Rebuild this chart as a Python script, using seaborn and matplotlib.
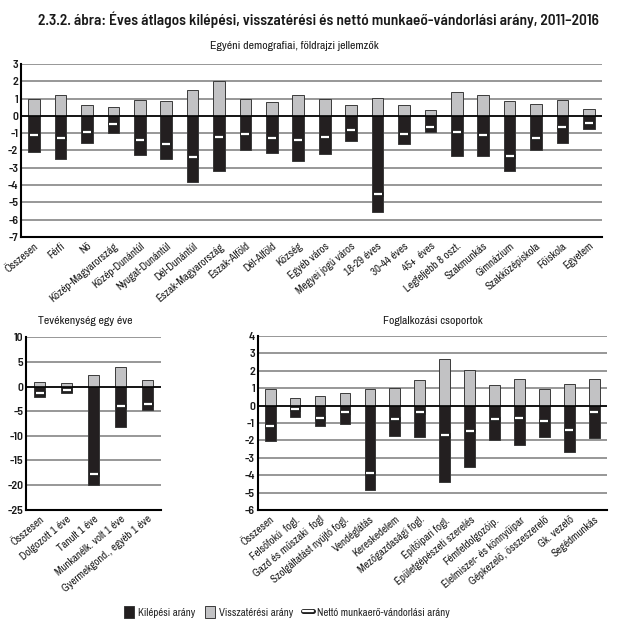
import matplotlib
matplotlib.use("Agg")
import matplotlib.pyplot as plt
import matplotlib.patheffects as pe
from matplotlib.patches import Patch
from matplotlib.lines import Line2D
import seaborn as sns
import pandas as pd

sns.set_theme(style="white")
BODY = ['Archivo Narrow', 'DejaVu Sans']
BOLD = ['Barlow Semi Condensed', 'DejaVu Sans']
plt.rcParams['font.family'] = BODY

# ---- data ----
demo_cats = ["Összesen", "Férfi", "Nő", "Közép-Magyarország", "Közép-Dunántúl",
             "Nyugat-Dunántúl", "Dél-Dunántúl", "Észak-Magyarország", "Észak-Alföld",
             "Dél-Alföld", "Község", "Egyéb város", "Megyei jogú város", "18-29 éves",
             "30-44 éves", "45+  éves", "Legfeljebb 8 oszt.", "Szakmunkás", "Gimnázium",
             "Szakközépiskola", "Főiskola", "Egyetem"]
demo_exit = [-2.08, -2.48, -1.58, -0.98, -2.29, -2.48, -3.85, -3.21, -1.96, -2.13, -2.6,
             -2.23, -1.44, -5.58, -1.62, -0.96, -2.31, -2.33, -3.17, -1.96, -1.58, -0.75]
demo_return = [0.96, 1.19, 0.62, 0.5, 0.94, 0.87, 1.5, 2.0, 0.98, 0.81, 1.19,
               1.0, 0.65, 1.06, 0.6, 0.31, 1.38, 1.21, 0.88, 0.67, 0.9, 0.37]
demo_net = [-1.13, -1.27, -0.96, -0.48, -1.37, -1.63, -2.37, -1.25, -1.04, -1.31, -1.4,
            -1.23, -0.81, -4.54, -1.04, -0.63, -0.94, -1.13, -2.31, -1.31, -0.65, -0.42]
demo_ticks = list(range(-7, 4))

act_cats = ["Összesen", "Dolgozott 1 éve", "Tanult 1 éve", "Munkanélk. volt 1 éve",
            "Gyermekgond., egyéb 1 éve"]
act_exit = [-2.1, -1.37, -20.0, -8.15, -4.8]
act_return = [0.89, 0.62, 2.33, 3.97, 1.23]
act_net = [-1.23, -0.62, -17.7, -4.04, -3.5]
act_ticks = list(range(-25, 11, 5))

occ_cats = ["Összesen", "Felsőfokú  fogl.", "Gazd és műszaki  fogl", "Szolgáltatást nyújtó fogl.",
            "Vendéglátás", "Kereskedelem", "Mezőgazdasági fogl.", "Építőipari fogl.",
            "Épületgépészeti szerelés", "Fémfeldolgozóip.", "Élelmiszer- és könnyűipar",
            "Gépkezelő, összeszerelő", "Gk. vezető", "Segédmunkás"]
occ_exit = [-2.05, -0.67, -1.19, -1.04, -4.82, -1.73, -1.79, -4.4, -3.51, -1.96, -2.25,
            -1.8, -2.65, -1.86]
occ_return = [0.96, 0.46, 0.52, 0.73, 0.96, 0.98, 1.46, 2.69, 2.05, 1.19, 1.54, 0.92,
              1.23, 1.54]
occ_net = [-1.15, -0.21, -0.69, -0.35, -3.88, -0.75, -0.35, -1.71, -1.46, -0.75, -0.69,
           -0.9, -1.42, -0.35]
occ_ticks = list(range(-6, 5))

EXIT_C = "#231f20"
RET_C = "#c2c2c4"
EDGE_C = "#3a3a3a"
GRID_C = "#7a7a7a"
TXT_C = "#1a1a1a"

fig = plt.figure(figsize=(6.2, 6.3), dpi=100)


def panel(rect, cats, ex, ret, net, ticks, width, tick_fs=8.5, lab_fs=7.9):
    ax = fig.add_axes(rect)
    df = pd.DataFrame({"cat": cats, "exit": ex, "ret": ret, "net": net})
    for t in ticks:
        ax.axhline(t, color=GRID_C, lw=1.1, zorder=0)
    sns.barplot(data=df, x="cat", y="ret", ax=ax, color=RET_C, width=width,
                edgecolor=EDGE_C, linewidth=0.7, saturation=1, order=cats, zorder=2)
    sns.barplot(data=df, x="cat", y="exit", ax=ax, color=EXIT_C, width=width,
                edgecolor=EDGE_C, linewidth=0.7, saturation=1, order=cats, zorder=2)
    ax.axhline(0, color="black", lw=1.2, zorder=2.5)
    sns.scatterplot(data=df, x="cat", y="net", ax=ax, marker="_", s=45, color="#202020",
                    linewidth=3.6, zorder=3, legend=False)
    sns.scatterplot(data=df, x="cat", y="net", ax=ax, marker="_", s=30, color="white",
                    linewidth=1.6, zorder=4, legend=False)
    ax.set_ylim(ticks[0], ticks[-1])
    ax.set_xlim(-0.5, len(cats) - 0.5)
    ax.set_yticks(ticks)
    ax.set_yticklabels([str(t) for t in ticks], fontsize=tick_fs, fontweight=600,
                       color=TXT_C, family=BOLD)
    ax.set_xticks(range(len(cats)))
    ax.set_xticklabels(cats, rotation=40, ha="right", rotation_mode="anchor",
                       fontsize=lab_fs, color=TXT_C)
    ax.tick_params(axis="both", length=0, pad=2)
    ax.tick_params(axis="x", pad=3)
    ax.set_xlabel("")
    ax.set_ylabel("")
    for s in ["top", "right"]:
        ax.spines[s].set_visible(False)
    for s in ["left", "bottom"]:
        ax.spines[s].set_visible(True)
        ax.spines[s].set_color("black")
        ax.spines[s].set_linewidth(1.5)
    ax.set_facecolor("white")
    ax.grid(False)
    return ax


panel([21 / 620, 1 - 236.8 / 630, 581 / 620, 172.8 / 630], demo_cats, demo_exit,
      demo_return, demo_net, demo_ticks, 0.44)
panel([26 / 620, 1 - 509.6 / 630, 135 / 620, 172.3 / 630], act_cats, act_exit,
      act_return, act_net, act_ticks, 0.44)
panel([257.7 / 620, 1 - 510.3 / 630, 349 / 620, 174.6 / 630], occ_cats, occ_exit,
      occ_return, occ_net, occ_ticks, 0.43)

fig.text(294 / 620, 1 - 46 / 630, "Egyéni demografiai, földrajzi jellemzők",
         ha="center", va="center", fontsize=8.5, color=TXT_C)
fig.text(85 / 620, 1 - 321 / 630, "Tevékenység egy éve", ha="center", va="center",
         fontsize=8.5, color=TXT_C)
fig.text(433 / 620, 1 - 321 / 630, "Foglalkozási csoportok", ha="center", va="center",
         fontsize=8.5, color=TXT_C)

fig.text(318 / 620, 1 - 20 / 630,
         "2.3.2. ábra: Éves átlagos kilépési, visszatérési és nettó munkaeő-vándorlási arány, 2011–2016",
         ha="center", va="center", fontsize=11, fontweight=600, color=TXT_C, family=BOLD)

handles = [
    Patch(facecolor=EXIT_C, edgecolor=EDGE_C, linewidth=0.7, label="Kilépési arány"),
    Patch(facecolor=RET_C, edgecolor=EDGE_C, linewidth=0.7, label="Visszatérési arány"),
    Line2D([0], [0], color="white", lw=1.6,
           path_effects=[pe.withStroke(linewidth=3.6, foreground="#202020")],
           label="Nettó munkaerő-vándorlási arány"),
]
fig.legend(handles=handles, loc="center", bbox_to_anchor=(287 / 620, 1 - 612 / 630),
           ncol=3, frameon=False, fontsize=7.8, handlelength=0.9, handleheight=1.4,
           handletextpad=0.4, columnspacing=0.9)

fig.savefig("out.png", dpi=100, facecolor="white")
